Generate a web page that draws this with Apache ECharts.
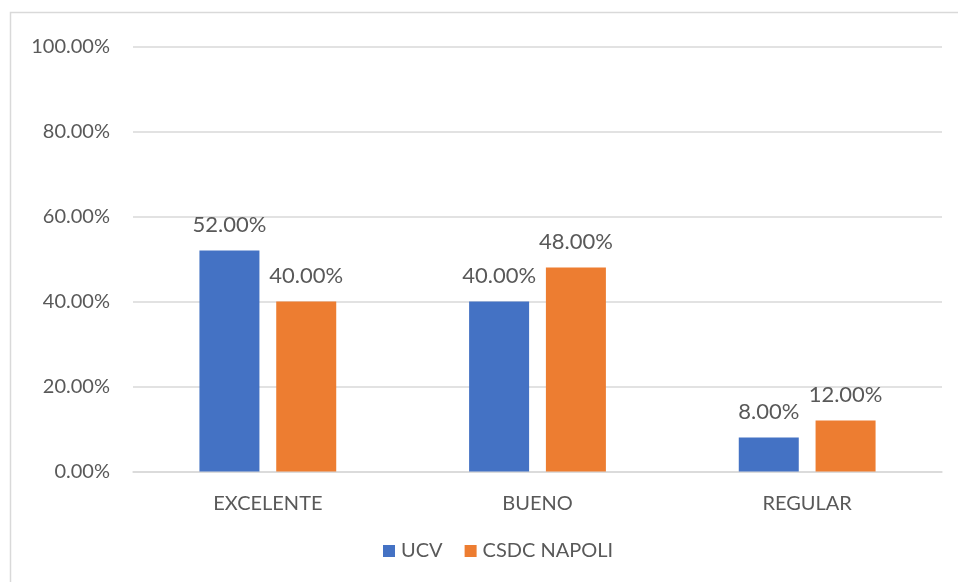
<!DOCTYPE html>
<html>
<head>
<meta charset="utf-8">
<script src="https://cdn.jsdelivr.net/npm/echarts@6/dist/echarts.min.js"></script>
<style>
  html, body { margin: 0; padding: 0; background: #fff; }
  #chart { width: 958px; height: 582px; }
</style>
</head>
<body>
<div id="chart"></div>
<script>
// Rating categories and the share of answers per group (fractions)
const categories = ['EXCELENTE', 'BUENO', 'REGULAR'];
const ucvValues = [0.52, 0.40, 0.08];
const napoliValues = [0.40, 0.48, 0.12];
const seriesNames = ['UCV', 'CSDC NAPOLI'];

const FONT = 'Lato, "Open Sans", sans-serif';
const TEXT = '#595959';
const pct = v => (v * 100).toFixed(2) + '%';

const chart = echarts.init(document.getElementById('chart'));

const labelStyle = {
  show: true,
  position: 'top',
  distance: 15,
  color: TEXT,
  fontFamily: FONT,
  fontSize: 22,
  formatter: p => pct(p.value)
};

chart.setOption({
  animation: false,
  backgroundColor: '#fff',
  graphic: [{
    type: 'rect',
    shape: { x: 10.5, y: 12.5, width: 1000, height: 1000 },
    style: { fill: 'none', stroke: '#d9d9d9', lineWidth: 1.5 },
    silent: true
  }],
  legend: {
    data: seriesNames,
    bottom: 16,
    left: 378,
    itemWidth: 12,
    itemHeight: 12,
    itemGap: 22,
    icon: 'rect',
    textStyle: { color: TEXT, fontFamily: FONT, fontSize: 20, padding: [2, 0, 0, 1] }
  },
  grid: { left: 133, right: 16, top: 46.5, bottom: 110.5, containLabel: false },
  xAxis: {
    type: 'category',
    data: categories,
    axisTick: { show: false },
    axisLine: { lineStyle: { color: '#d9d9d9', width: 1.5 } },
    axisLabel: { color: TEXT, fontFamily: FONT, fontSize: 20, margin: 22 }
  },
  yAxis: {
    type: 'value',
    min: 0,
    max: 1,
    interval: 0.2,
    axisLine: { show: false },
    axisTick: { show: false },
    splitLine: { lineStyle: { color: '#d9d9d9', width: 1.5 } },
    axisLabel: { color: TEXT, fontFamily: FONT, fontSize: 20, margin: 23, formatter: v => pct(v) }
  },
  series: [
    {
      name: seriesNames[0],
      type: 'bar',
      data: ucvValues,
      barWidth: 60,
      barGap: '28%',
      itemStyle: { color: '#4472c4' },
      label: labelStyle
    },
    {
      name: seriesNames[1],
      type: 'bar',
      data: napoliValues,
      barWidth: 60,
      itemStyle: { color: '#ed7d31' },
      label: labelStyle
    }
  ]
});
</script>
</body>
</html>
